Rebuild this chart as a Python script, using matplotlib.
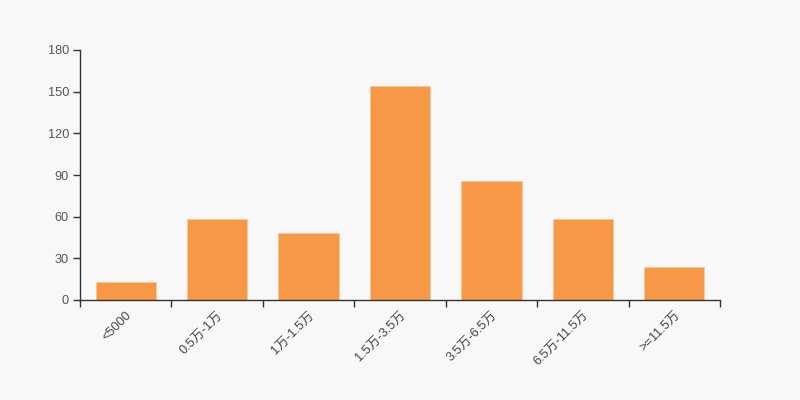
import matplotlib
matplotlib.use("Agg")
import matplotlib.pyplot as plt
import numpy as np

categories = ["<5000", "0.5万-1万", "1万-1.5万", "1.5万-3.5万", "3.5万-6.5万", "6.5万-11.5万", ">=11.5万"]
values = [13, 58, 48, 154, 86, 58, 24]
y_ticks = [0, 30, 60, 90, 120, 150, 180]

plt.rcParams['font.family'] = ['Liberation Sans', 'Noto Sans CJK SC', 'DejaVu Sans']

bg = "#f8f8f8"
fig = plt.figure(figsize=(8, 4), dpi=100, facecolor=bg)
ax = fig.add_axes([0.1, 0.25, 0.8, 0.625], facecolor=bg)

x = np.arange(len(categories))
ax.bar(x, values, width=0.66, color="#f79846", edgecolor="#fbc89a", linewidth=0.6)

ax.set_xlim(-0.5, len(categories) - 0.5)
ax.set_ylim(0, 180)
ax.set_yticks(y_ticks)
ax.set_yticklabels([str(v) for v in y_ticks])

ax.set_xticks(x)
ax.set_xticklabels(categories, rotation=45, ha='right', rotation_mode='anchor')
ax.set_xticks(np.arange(len(categories) + 1) - 0.5, minor=True)
ax.tick_params(axis='x', which='major', length=0, pad=7, labelsize=9.2, colors="#444444")
ax.tick_params(axis='x', which='minor', length=5, width=1, color="#333333", direction='out')
ax.tick_params(axis='y', length=5, width=1, color="#333333", labelsize=9.2, labelcolor="#555555", pad=3)

for s in ['top', 'right']:
    ax.spines[s].set_visible(False)
for s in ['left', 'bottom']:
    ax.spines[s].set_color("#333333")
    ax.spines[s].set_linewidth(1)

fig.savefig("out.png", dpi=100, facecolor=bg)
